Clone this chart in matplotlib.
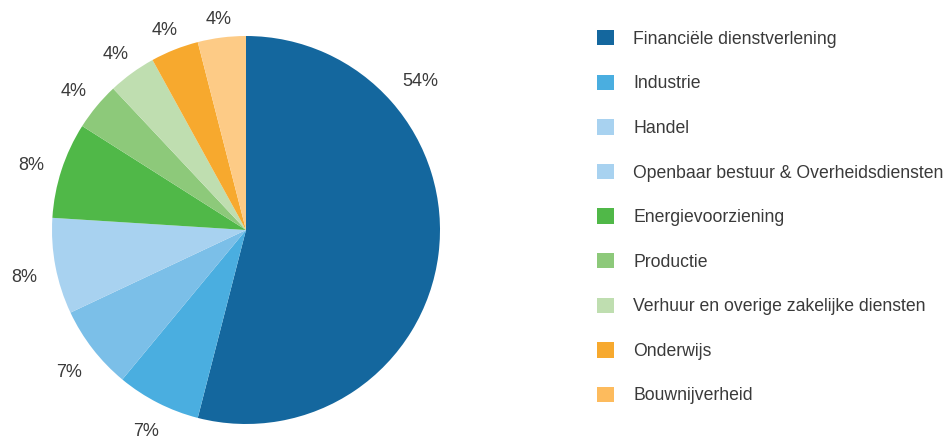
import matplotlib.pyplot as plt
import numpy as np
from matplotlib.patches import Patch

sectors = ['Financiële dienstverlening', 'Industrie', 'Handel',
           'Openbaar bestuur & Overheidsdiensten', 'Energievoorziening',
           'Productie', 'Verhuur en overige zakelijke diensten',
           'Onderwijs', 'Bouwnijverheid']
shares = [54, 7, 7, 8, 8, 4, 4, 4, 4]

slice_colors = ['#14679e', '#4aaee0', '#7bbfe8', '#a8d2f0', '#50b848',
                '#8dc97a', '#bfdeb0', '#f7a92e', '#fdcb86']
legend_colors = ['#14679e', '#4aaee0', '#a8d2f0', '#a8d2f0', '#50b848',
                 '#8dc97a', '#bfdeb0', '#f7a92e', '#fdbb5d']

text_color = '#3a3a3a'
plt.rcParams['font.family'] = 'Liberation Sans'

fig = plt.figure(figsize=(9.51, 4.41), dpi=100)
ax = fig.add_axes([52 / 951, 17 / 441, 388 / 951, 388 / 441])

wedges, _ = ax.pie(shares, colors=slice_colors, startangle=90,
                   counterclock=False, wedgeprops=dict(linewidth=0))

# percentage labels just outside the rim; wider reach sideways since
# the text is wider than it is tall
for i, (w, s) in enumerate(zip(wedges, shares)):
    mid = np.deg2rad((w.theta1 + w.theta2) / 2)
    extra = 0.0
    if i == 0:
        mid = np.deg2rad(90 - 48.7)
        extra = 0.04
    c, sn = np.cos(mid), np.sin(mid)
    d = 1.10 + 0.065 * abs(c) + 0.01 * abs(sn) + extra
    ax.text(d * c, d * sn - 0.015, f'{s}%', ha='center',
            va='center_baseline', color=text_color, fontsize=13)

ax.set_xlim(-1, 1)
ax.set_ylim(-1, 1)
ax.set_aspect('equal')

handles = [Patch(facecolor=c, edgecolor='none') for c in legend_colors]
fig.legend(handles, sectors, loc='upper left',
           bbox_to_anchor=(597 / 951, 1 - 30 / 441),
           frameon=False, fontsize=12.7, labelcolor=text_color,
           handlelength=0.97, handleheight=0.97, handletextpad=1.08,
           labelspacing=1.52, borderaxespad=0, borderpad=0)

fig.savefig('out.png', dpi=100)
